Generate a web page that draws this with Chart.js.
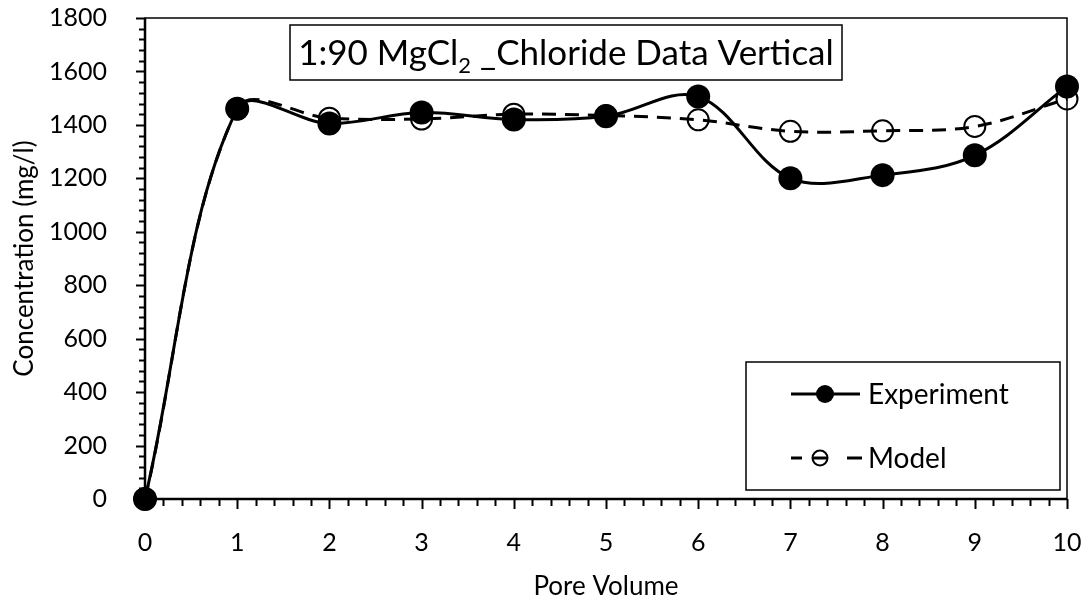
<!DOCTYPE html>
<html lang="en">
<head>
  <meta charset="UTF-8" />
  <title>1:90 MgCl2 Chloride Data Vertical</title>
  <script src="https://cdn.jsdelivr.net/npm/chart.js"></script>
  <style>
    html, body { margin: 0; padding: 0; background: #fff; }
    canvas { display: block; }
  </style>
</head>
<body>
  <canvas id="grafico" width="1088" height="606"></canvas>

  <script>
    // data
    const poreVolume = [0, 1, 2, 3, 4, 5, 6, 7, 8, 9, 10];
    const experiment = [0, 1460, 1405, 1446, 1420, 1432, 1506, 1200, 1212, 1286, 1544];
    const model = [0, 1460, 1425, 1422, 1440, 1435, 1419, 1376, 1378, 1394, 1497];
    const yTicks = [0, 200, 400, 600, 800, 1000, 1200, 1400, 1600, 1800];
    const xTicks = [0, 1, 2, 3, 4, 5, 6, 7, 8, 9, 10];
    const seriesNames = ['Experiment', 'Model'];

    const fonte = 'Lato, "Open Sans", sans-serif';

    const pontos = (ys) => poreVolume.map((x, i) => ({ x: x, y: ys[i] }));

    // frame, major and minor ticks
    const molduraPlugin = {
      id: 'moldura',
      beforeDatasetsDraw(chart) {
        const ctx = chart.ctx;
        const a = chart.chartArea;
        const sx = chart.scales.x, sy = chart.scales.y;
        ctx.save();
        ctx.strokeStyle = '#000';
        ctx.lineWidth = 1.5;
        ctx.strokeRect(a.left, a.top, a.right - a.left, a.bottom - a.top);

        ctx.lineWidth = 2;
        ctx.beginPath();
        // y ticks: every 200 major, every 40 minor, outward
        for (let v = 0; v <= 1800; v += 40) {
          const py = Math.round(sy.getPixelForValue(v)) + 0.5;
          const len = v % 200 === 0 ? 9 : 6;
          ctx.moveTo(a.left - len, py);
          ctx.lineTo(a.left, py);
        }
        // x ticks: every 1 major, every 0.2 minor, downward
        for (let k = 0; k <= 50; k++) {
          const px = Math.round(sx.getPixelForValue(k / 5)) + 0.5;
          const len = k % 5 === 0 ? 10 : 7;
          ctx.moveTo(px, a.bottom);
          ctx.lineTo(px, a.bottom + len);
        }
        ctx.stroke();

        ctx.lineWidth = 2.5;
        ctx.beginPath();
        ctx.moveTo(a.left, a.top);
        ctx.lineTo(a.left, a.bottom);
        ctx.lineTo(a.right, a.bottom);
        ctx.stroke();
        ctx.restore();
      }
    };

    // title box and legend inside the plot
    const caixasPlugin = {
      id: 'caixas',
      afterDatasetsDraw(chart) {
        const ctx = chart.ctx;
        const a = chart.chartArea;
        ctx.save();

        // title box
        const bx = a.left + 145, by = a.top + 7, bw = 552, bh = 55;
        ctx.fillStyle = '#fff';
        ctx.fillRect(bx, by, bw, bh);
        ctx.strokeStyle = '#000';
        ctx.lineWidth = 1.5;
        ctx.strokeRect(bx, by, bw, bh);

        const partes = [
          { t: '1:90 MgCl', f: '35px ' + fonte, dy: 0 },
          { t: '2', f: '22px ' + fonte, dy: 8 },
          { t: ' _Chloride Data Vertical', f: '35px ' + fonte, dy: 0 }
        ];
        let total = 0;
        partes.forEach(p => { ctx.font = p.f; p.w = ctx.measureText(p.t).width; total += p.w; });
        let tx = bx + (bw - total) / 2;
        const ty = by + bh / 2 + 12;
        ctx.fillStyle = '#000';
        ctx.textBaseline = 'alphabetic';
        partes.forEach(p => {
          ctx.font = p.f;
          ctx.fillText(p.t, tx, ty + p.dy);
          tx += p.w;
        });

        // legend
        const lx = a.left + 601, ly = a.top + 344, lw = 314, lh = 128;
        ctx.fillStyle = '#fff';
        ctx.fillRect(lx, ly, lw, lh);
        ctx.strokeRect(lx, ly, lw, lh);

        ctx.font = '28px ' + fonte;
        ctx.textBaseline = 'middle';
        ctx.fillStyle = '#000';
        ctx.strokeStyle = '#000';

        // Experiment
        const ey = ly + 32;
        ctx.lineWidth = 3;
        ctx.beginPath();
        ctx.moveTo(lx + 45, ey);
        ctx.lineTo(lx + 114, ey);
        ctx.stroke();
        ctx.beginPath();
        ctx.arc(lx + 79, ey, 9, 0, Math.PI * 2);
        ctx.fill();
        ctx.fillText(seriesNames[0], lx + 122, ey + 1);

        // Model
        const my = ly + 96;
        ctx.beginPath();
        ctx.moveTo(lx + 45, my);
        ctx.lineTo(lx + 56, my);
        ctx.moveTo(lx + 101, my);
        ctx.lineTo(lx + 116, my);
        ctx.moveTo(lx + 67, my);
        ctx.lineTo(lx + 81, my);
        ctx.stroke();
        ctx.lineWidth = 2;
        ctx.beginPath();
        ctx.arc(lx + 74, my, 7.5, 0, Math.PI * 2);
        ctx.stroke();
        ctx.fillText(seriesNames[1], lx + 122, my + 1);

        ctx.restore();
      }
    };

    new Chart(document.getElementById('grafico'), {
      type: 'line',
      data: {
        datasets: [
          {
            label: seriesNames[0],
            data: pontos(experiment),
            borderColor: '#000',
            borderWidth: 3,
            tension: 0.35,
            pointRadius: 12,
            pointBackgroundColor: '#000',
            pointBorderColor: '#000',
            pointBorderWidth: 0,
            clip: false
          },
          {
            label: seriesNames[1],
            data: pontos(model),
            borderColor: '#000',
            borderWidth: 3,
            borderDash: [14, 9],
            tension: 0.35,
            pointRadius: 10.5,
            pointBackgroundColor: 'rgba(0,0,0,0)',
            pointBorderColor: '#000',
            pointBorderWidth: 2,
            clip: false
          }
        ]
      },
      options: {
        responsive: false,
        animation: false,
        devicePixelRatio: 1,
        layout: { padding: { left: 0, right: 21, top: 18, bottom: 0 } },
        plugins: {
          legend: { display: false },
          tooltip: { enabled: false }
        },
        scales: {
          x: {
            type: 'linear',
            min: 0,
            max: 10,
            afterFit: s => { s.height = 107; s.paddingLeft = 0; s.paddingRight = 0; },
            afterBuildTicks: s => { s.ticks = xTicks.map(v => ({ value: v })); },
            grid: { display: false },
            border: { display: false },
            ticks: { color: '#000', font: { family: fonte, size: 25 }, padding: 21, maxRotation: 0 },
            title: {
              display: true,
              text: 'Pore Volume',
              color: '#000',
              font: { family: fonte, size: 26 },
              padding: { top: 4, bottom: 4 }
            }
          },
          y: {
            min: 0,
            max: 1800,
            afterFit: s => { s.width = 145; s.paddingTop = 0; s.paddingBottom = 0; },
            afterBuildTicks: s => { s.ticks = yTicks.map(v => ({ value: v })); },
            grid: { display: false },
            border: { display: false },
            ticks: {
              color: '#000',
              font: { family: fonte, size: 25 },
              padding: 30,
              callback: v => String(v)
            },
            title: {
              display: true,
              text: 'Concentration (mg/l)',
              color: '#000',
              font: { family: fonte, size: 26 },
              padding: { top: 9, bottom: 0 }
            }
          }
        }
      },
      plugins: [molduraPlugin, caixasPlugin]
    });
  </script>
</body>
</html>
